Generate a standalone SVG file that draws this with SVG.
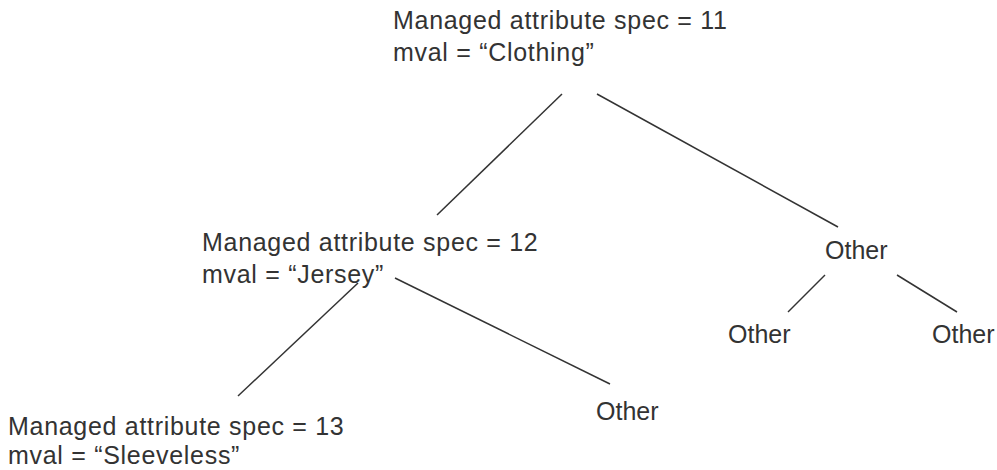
<svg xmlns="http://www.w3.org/2000/svg" width="997" height="470" viewBox="0 0 997 470">
<style>
text { font-family: "Liberation Sans", Arial, sans-serif; font-size: 25px; fill: #333333; }
.long { letter-spacing: 0.7px; }
.edge { stroke: #333333; stroke-width: 1.5; fill: none; }
</style>
<rect width="997" height="470" fill="#ffffff"/>
<g id="connectors">
<line class="edge" x1="562" y1="94" x2="437" y2="215"/>
<line class="edge" x1="597" y1="94" x2="838" y2="227"/>
<line class="edge" x1="358" y1="283" x2="238" y2="396"/>
<line class="edge" x1="395" y1="278" x2="610" y2="384"/>
<line class="edge" x1="825" y1="275" x2="788" y2="312"/>
<line class="edge" x1="897" y1="275" x2="957" y2="312"/>
</g>
<g id="node-11">
<text class="long" x="393" y="29">Managed attribute spec = 11</text>
<text class="long" x="393" y="61">mval = “Clothing”</text>
</g>
<g id="node-12">
<text class="long" x="202" y="251">Managed attribute spec = 12</text>
<text class="long" x="202" y="283">mval = “Jersey”</text>
</g>
<g id="node-13">
<text class="long" x="8" y="435">Managed attribute spec = 13</text>
<text class="long" x="8" y="464">mval = “Sleeveless”</text>
</g>
<g id="node-other-mid">
<text x="596" y="420">Other</text>
</g>
<g id="node-other-right">
<text x="825" y="259">Other</text>
</g>
<g id="node-other-rl">
<text x="728" y="343">Other</text>
</g>
<g id="node-other-rr">
<text x="932" y="343">Other</text>
</g>
</svg>
